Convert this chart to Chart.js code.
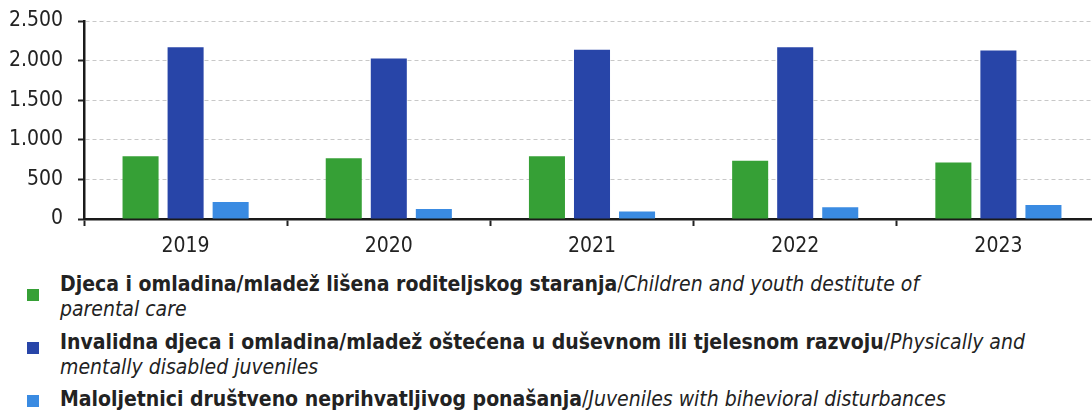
<!DOCTYPE html>
<html>
<head>
<meta charset="utf-8">
<script src="https://cdn.jsdelivr.net/npm/chart.js@4.4.1/dist/chart.umd.min.js"></script>
<style>
  html, body { margin: 0; padding: 0; background: #fff; overflow: hidden; width: 1092px; height: 412px; }
  #wrap { position: absolute; left: 0; top: 0; width: 1100px; height: 264px; }
  #legend { position: absolute; left: 0; top: 0; width: 1092px; font-family: "DejaVu Sans Condensed", "DejaVu Sans", sans-serif; color: #222; }
  .marker { position: absolute; left: 27px; width: 12px; height: 12px; }
  .txt { position: absolute; left: 60px; width: 1020px; font-size: 21px; line-height: 25px; white-space: pre-line; }
  .txt b { font-weight: bold; }
  .txt i { font-style: italic; }
</style>
</head>
<body>
<div id="wrap"><canvas id="c"></canvas></div>
<div id="legend"></div>
<script>
const categories = ['2019', '2020', '2021', '2022', '2023'];
const seriesLocal = [
  'Djeca i omladina/mladež lišena roditeljskog staranja',
  'Invalidna djeca i omladina/mladež oštećena u duševnom ili tjelesnom razvoju',
  'Maloljetnici društveno neprihvatljivog ponašanja'
];
const seriesEnglish = [
  'Children and youth destitute of\nparental care',
  'Physically and\nmentally disabled juveniles',
  'Juveniles with bihevioral disturbances'
];
const deprived = [792, 767, 792, 734, 712];
const disabled = [2167, 2028, 2138, 2167, 2129];
const behavioral = [215, 127, 96, 147, 177];
const yTicks = [0, 500, 1000, 1500, 2000, 2500];
const colors = ['#36a036', '#2845a8', '#3a8be2'];

// legend layout (pixels)
const legendTextTops = [272, 330, 387];
const legendMarkerTops = [289, 342, 395];

function fmt(v) { return String(v).replace(/\B(?=(\d{3})+(?!\d))/g, '.'); }

const tickFont = { family: '"DejaVu Sans Condensed", "DejaVu Sans", sans-serif', size: 21 };

const chart = new Chart(document.getElementById('c'), {
  type: 'bar',
  data: {
    labels: categories,
    datasets: [
      { label: seriesLocal[0], data: deprived, backgroundColor: colors[0] },
      { label: seriesLocal[1], data: disabled, backgroundColor: colors[1] },
      { label: seriesLocal[2], data: behavioral, backgroundColor: colors[2] }
    ]
  },
  options: {
    responsive: true,
    maintainAspectRatio: false,
    animation: false,
    layout: { padding: { top: 21, right: 0, bottom: 0, left: 0 } },
    plugins: { legend: { display: false }, tooltip: { enabled: false } },
    datasets: { bar: { categoryPercentage: 0.665, barPercentage: 0.8, borderWidth: 0 } },
    scales: {
      x: {
        afterFit: s => { s.height = 45; s.paddingLeft = 0; s.paddingRight = 0; },
        grid: { display: true, drawOnChartArea: false, drawTicks: true, tickLength: 7, tickColor: '#222', tickWidth: 2, offset: true },
        border: { display: true, color: '#1a1a1a', width: 2.5 },
        ticks: { color: '#222', font: tickFont, padding: 8 }
      },
      y: {
        min: 0, max: 2500,
        afterFit: s => { s.width = 84; s.paddingTop = 0; s.paddingBottom = 0; },
        afterBuildTicks: s => { s.ticks = yTicks.map(v => ({ value: v })); },
        grid: { color: '#c8c8c8', lineWidth: 1, drawTicks: true, tickLength: 6, tickColor: '#222', tickWidth: 2, tickBorderDash: [] },
        border: { display: true, color: '#1a1a1a', width: 2.5, dash: [4, 3] },
        ticks: { color: '#222', font: tickFont, padding: 15, callback: v => fmt(v) }
      }
    }
  }
});

// HTML legend built from the chart's datasets
const legend = document.getElementById('legend');
chart.data.datasets.forEach((ds, i) => {
  const m = document.createElement('div');
  m.className = 'marker';
  m.style.background = ds.backgroundColor;
  m.style.top = legendMarkerTops[i] + 'px';
  const t = document.createElement('div');
  t.className = 'txt';
  t.style.top = legendTextTops[i] + 'px';
  const b = document.createElement('b'); b.textContent = ds.label;
  const sl = document.createTextNode('/');
  const it = document.createElement('i'); it.textContent = seriesEnglish[i];
  t.appendChild(b); t.appendChild(sl); t.appendChild(it);
  legend.appendChild(m); legend.appendChild(t);
});
</script>
</body>
</html>
